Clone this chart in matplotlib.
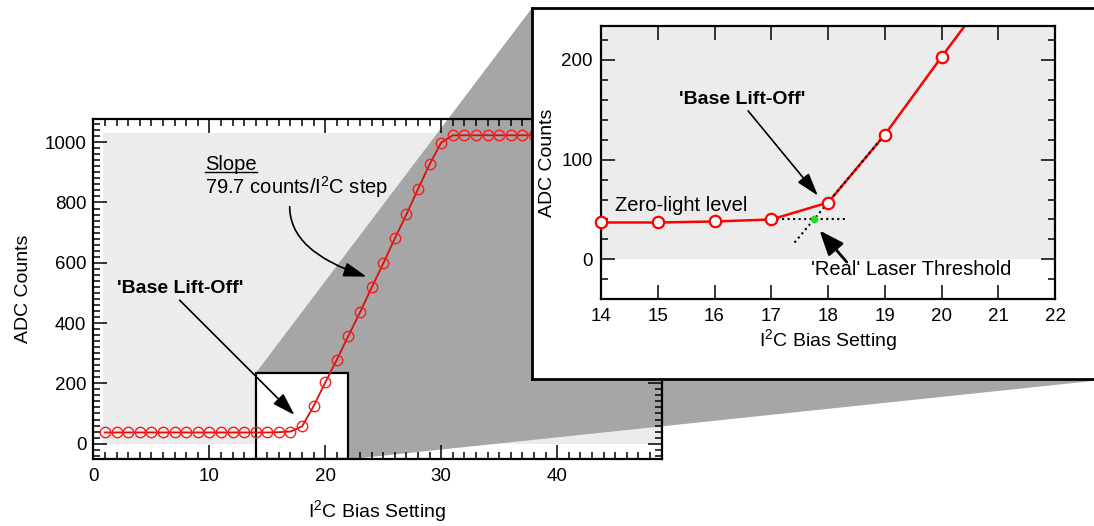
import matplotlib
matplotlib.use("Agg")
import matplotlib.pyplot as plt
import numpy as np
from matplotlib.patches import Rectangle, Polygon
from matplotlib.ticker import MultipleLocator
from matplotlib.lines import Line2D

plt.rcParams['font.family'] = ['Liberation Sans', 'DejaVu Sans']
plt.rcParams['mathtext.fontset'] = 'custom'
plt.rcParams['mathtext.rm'] = 'Liberation Sans'
plt.rcParams['mathtext.it'] = 'Liberation Sans:italic'
plt.rcParams['mathtext.bf'] = 'Liberation Sans:bold'

# ---- data: ADC reading vs. I2C bias setting ----
bias = np.arange(1, 49)
adc = [37, 37, 37, 37, 37, 37, 37, 37, 37, 37, 37, 37, 37, 37, 37,
       38, 40, 57, 125, 203, 279, 358, 436, 518, 598, 681, 761, 845, 927, 999,
       1023, 1023, 1023, 1023, 1023, 1023, 1023, 1023, 1023, 1023, 1023, 1023,
       1023, 1023, 1023, 1023, 1023, 1023]
adc = np.array(adc, dtype=float)

main_xlim = (0, 49)
main_ylim = (-52, 1076)
zoom_xlim = (14, 22)
zoom_ylim = (-40, 234)

slope_text = r'79.7 counts/I$^{2}$C step'
xlabel = r'I$^{2}$C Bias Setting'
ylabel = 'ADC Counts'

LIGHT = '#ececec'
CONE = '#a6a6a6'
TXT = 14.5
TICK = 13.5

fig = plt.figure(figsize=(10.94, 5.26), dpi=100)

# ---- main axes ----
ax = fig.add_axes([0.0853, 0.1268, 0.5195, 0.6464])
ax.set_xlim(*main_xlim)
ax.set_ylim(*main_ylim)
ax.add_patch(Rectangle((0.85, 0), main_xlim[1] - 0.85, 1030, fc=LIGHT, ec='none', zorder=0.5))
ax.set_axisbelow(False)

ax.xaxis.set_major_locator(MultipleLocator(10))
ax.xaxis.set_minor_locator(MultipleLocator(1))
ax.yaxis.set_major_locator(MultipleLocator(200))
ax.yaxis.set_minor_locator(MultipleLocator(20))
ax.tick_params(which='both', direction='in', top=True, right=True, width=1.1, labelsize=TICK)
ax.tick_params(which='major', length=10)
ax.tick_params(which='minor', length=5)
ax.tick_params(axis='x', pad=6)
ax.tick_params(axis='y', pad=5)
for s in ax.spines.values():
    s.set_linewidth(1.6)
ax.set_xlabel(xlabel, fontsize=14, labelpad=10)
ax.set_ylabel(ylabel, fontsize=14, labelpad=9)

# zoom box on the main plot
box = Rectangle((zoom_xlim[0], main_ylim[0]), zoom_xlim[1] - zoom_xlim[0],
                zoom_ylim[1] - main_ylim[0], fc='white', ec='black', lw=1.6, zorder=1.2)
ax.add_patch(box)

ax.plot(bias, adc, color='#d81010', lw=1.3, zorder=2)
ax.plot(bias, adc, 'o', ms=7.5, mfc='none', mec='#ff1a1a', mew=1.0, zorder=2.1)

ax.text(2.0, 516, "'Base Lift-Off'", fontsize=14, weight='bold', va='center', zorder=3)
ax.annotate('', xy=(17.35, 95), xytext=(7.44, 476),
            arrowprops=dict(arrowstyle='-|>,head_length=0.7,head_width=0.22', mutation_scale=20,
                            color='black', lw=1.2, shrinkA=0, shrinkB=0), zorder=3)

slope_lbl = ax.text(9.63, 908, 'Slope', fontsize=TXT, va='baseline', zorder=3)
ax.text(9.63, 828, slope_text, fontsize=TXT, va='baseline', zorder=3)
ax.annotate('', xy=(23.55, 554), xytext=(16.93, 786),
            arrowprops=dict(arrowstyle='-|>,head_length=0.7,head_width=0.22', mutation_scale=20,
                            color='black', lw=1.2, shrinkA=0, shrinkB=0,
                            connectionstyle='angle3,angleA=90,angleB=-18'), zorder=3)

# ---- inset frame ----
frame_rect = [0.4863, 0.2795, 0.53, 0.7053]
fa = fig.add_axes(frame_rect, zorder=3)
fa.set_xticks([])
fa.set_yticks([])
fa.set_facecolor('white')
for s in fa.spines.values():
    s.set_linewidth(2.0)

# ---- shaded cone linking the zoom box to the inset frame ----
to_fig = fig.transFigure.inverted()
box_tl = to_fig.transform(ax.transData.transform((zoom_xlim[0], zoom_ylim[1])))
box_br = to_fig.transform(ax.transData.transform((zoom_xlim[1], main_ylim[0])))
box_bl = to_fig.transform(ax.transData.transform((zoom_xlim[0], main_ylim[0])))
fl, fb, fw, fh = frame_rect
cone = Polygon([box_tl, (fl, fb + fh), (fl + fw, fb + fh), (fl + fw, fb), box_br, box_bl],
               closed=True, transform=fig.transFigure, fc=CONE, ec='none',
               clip_on=False, zorder=1.0)
ax.add_patch(cone)

# ---- inset axes ----
ia = fig.add_axes([0.5494, 0.4310, 0.4150, 0.5196], zorder=4)
ia.set_xlim(*zoom_xlim)
ia.set_ylim(*zoom_ylim)
ia.add_patch(Rectangle((zoom_xlim[0], 0), zoom_xlim[1] - zoom_xlim[0], zoom_ylim[1],
                       fc=LIGHT, ec='none', zorder=0.5))
ia.xaxis.set_major_locator(MultipleLocator(1))
ia.yaxis.set_major_locator(MultipleLocator(100))
ia.yaxis.set_minor_locator(MultipleLocator(20))
ia.tick_params(which='both', direction='in', top=True, right=True, width=1.1, labelsize=TICK)
ia.tick_params(which='major', length=10)
ia.tick_params(which='minor', length=5)
ia.tick_params(axis='x', pad=6)
ia.tick_params(axis='y', pad=6)
for s in ia.spines.values():
    s.set_linewidth(1.6)
ia.set_xlabel(xlabel, fontsize=14, labelpad=2)
ia.set_ylabel(ylabel, fontsize=14, labelpad=4)

# extrapolated threshold from the two points above lift-off
i18 = int(np.where(bias == 18)[0][0])
base_level = adc[i18 - 1]
step = adc[i18 + 1] - adc[i18]
x_thr = bias[i18] - (adc[i18] - base_level) / step

ia.plot(bias, adc, color='red', lw=1.8, zorder=2)
vis = (bias >= zoom_xlim[0]) & (bias <= zoom_xlim[1]) & (adc <= zoom_ylim[1])
ia.plot(bias[vis], adc[vis], 'o', ms=8.2, mfc='white', mec='red', mew=1.6, zorder=3, clip_on=False)

ia.plot([bias[i18 - 1], bias[i18] + 0.33], [base_level, base_level], ':', color='black', lw=1.5, zorder=2.5)
x_lo = x_thr - 0.34
ia.plot([x_lo, bias[i18 + 1]], [base_level - (x_thr - x_lo) * step, adc[i18 + 1]], ':',
        color='black', lw=1.5, zorder=2.5)
ia.plot([x_thr], [base_level], 'o', ms=5.5, color='#22dd22', mec='none', zorder=4)

ia.text(15.38, 160.7, "'Base Lift-Off'", fontsize=14, weight='bold', va='center', zorder=5)
ia.annotate('', xy=(17.82, 64), xytext=(16.59, 149),
            arrowprops=dict(arrowstyle='-|>,head_length=0.7,head_width=0.22', mutation_scale=20,
                            color='black', lw=1.2, shrinkA=0, shrinkB=0), zorder=5)
ia.text(14.24, 54, 'Zero-light level', fontsize=TXT, va='center', zorder=5)
ia.text(17.70, -10.3, "'Real' Laser Threshold", fontsize=TXT, va='center', zorder=5)
ia.annotate('', xy=(17.85, 29), xytext=(18.33, -2.7),
            arrowprops=dict(arrowstyle='-|>,head_length=0.75,head_width=0.3', mutation_scale=20,
                            color='black', lw=2.0, shrinkA=0, shrinkB=0), zorder=5)

# underline under "Slope"
fig.canvas.draw()
bb = slope_lbl.get_window_extent(fig.canvas.get_renderer())
y_base_disp = ax.transData.transform((0, 908))[1] - 2
p0 = to_fig.transform((bb.x0, y_base_disp))
p1 = to_fig.transform((bb.x1, y_base_disp))
fig.add_artist(Line2D([p0[0], p1[0]], [p0[1], p1[1]], color='black', lw=1.0,
                      transform=fig.transFigure, zorder=5))

fig.savefig('out.png', dpi=100)
